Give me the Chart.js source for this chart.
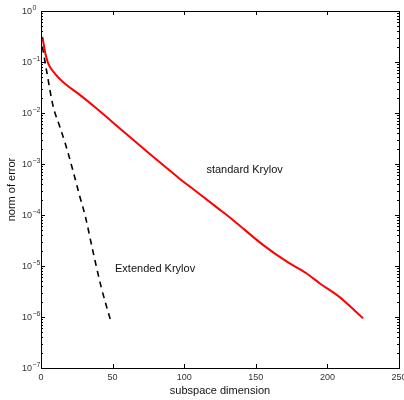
<!DOCTYPE html>
<html>
<head>
<meta charset="utf-8">
<script src="https://cdn.jsdelivr.net/npm/chart.js@4.4.1/dist/chart.umd.min.js"></script>
<style>
  html, body { margin: 0; padding: 0; background: #fff; }
  #wrap { width: 404px; height: 400px; }
</style>
</head>
<body>
<div id="wrap"><canvas id="chart" width="404" height="400"></canvas></div>
<script>
// standard Krylov (red, solid)
const stdDims = [1, 3, 5, 10, 17, 26, 38, 59, 76, 97, 104, 125, 134, 155, 172, 185, 195, 209, 216, 225];
const stdErr  = [0.31, 0.15, 0.094, 0.058, 0.037, 0.024, 0.0128, 0.0040, 0.00157, 5.1e-4, 3.6e-4, 1.26e-4, 8.0e-5, 2.6e-5, 1.2e-5, 7.3e-6, 4.5e-6, 2.4e-6, 1.6e-6, 9.4e-7];

// extended Krylov (black, dashed)
const extDims = [1, 4, 8.4, 13, 17, 22, 27, 31, 36, 42, 49];
const extErr  = [0.2, 0.065, 0.0138, 0.0055, 0.0025, 8.0e-4, 2.36e-4, 9.3e-5, 2.1e-5, 3.9e-6, 7.8e-7];

const xTicks = [0, 50, 100, 150, 200, 250];
const yExponents = [0, -1, -2, -3, -4, -5, -6, -7];

const xTitle = 'subspace dimension';
const yTitle = 'norm of error';
const notes = [
    { text: 'standard Krylov', x: 115.5, y: 7.6e-4 },
    { text: 'Extended Krylov', x: 51.7, y: 8.7e-6 }
];

const FONT = '"Liberation Sans", Arial, Helvetica, sans-serif';

const toPoints = (xs, ys) => xs.map((x, i) => ({ x: x, y: ys[i] }));

const matlabAxes = {
    id: 'matlabAxes',
    afterDraw(chart) {
        const ctx = chart.ctx;
        const { left, right, top, bottom } = chart.chartArea;
        const xs = chart.scales.x, ys = chart.scales.y;
        ctx.save();
        ctx.strokeStyle = '#000';
        ctx.lineWidth = 1;
        ctx.strokeRect(Math.round(left) + 0.5, Math.round(top) + 0.5, Math.round(right - left), Math.round(bottom - top));

        // ticks pointing inward
        ctx.beginPath();
        xTicks.forEach(v => {
            const px = Math.round(xs.getPixelForValue(v)) + 0.5;
            ctx.moveTo(px, bottom); ctx.lineTo(px, bottom - 4);
            ctx.moveTo(px, top); ctx.lineTo(px, top + 4);
        });
        yExponents.forEach(e => {
            const py = Math.round(ys.getPixelForValue(Math.pow(10, e))) + 0.5;
            ctx.moveTo(left, py); ctx.lineTo(left + 4, py);
            ctx.moveTo(right, py); ctx.lineTo(right - 4, py);
            if (e < 0) {
                for (let m = 2; m <= 9; m++) {
                    const pm = Math.round(ys.getPixelForValue(m * Math.pow(10, e))) + 0.5;
                    ctx.moveTo(left, pm); ctx.lineTo(left + 2, pm);
                    ctx.moveTo(right, pm); ctx.lineTo(right - 2, pm);
                }
            }
        });
        ctx.stroke();

        // tick labels
        ctx.fillStyle = '#333';
        ctx.font = '9px ' + FONT;
        ctx.textAlign = 'center';
        ctx.textBaseline = 'middle';
        xTicks.forEach(v => ctx.fillText(String(v), xs.getPixelForValue(v), bottom + 10));

        yExponents.forEach(e => {
            const py = ys.getPixelForValue(Math.pow(10, e));
            ctx.font = '9px ' + FONT;
            ctx.textAlign = 'right';
            ctx.fillText('10', left - 9, py + 1);
            ctx.font = '7px ' + FONT;
            ctx.textAlign = 'left';
            ctx.fillText(e === 0 ? '0' : '\u2212' + Math.abs(e), left - 8.5, py - 3);
        });

        // axis titles
        ctx.fillStyle = '#111';
        ctx.font = '11px ' + FONT;
        ctx.textAlign = 'center';
        ctx.fillText(xTitle, (left + right) / 2, bottom + 23);
        ctx.save();
        ctx.translate(12, (top + bottom) / 2);
        ctx.rotate(-Math.PI / 2);
        ctx.fillText(yTitle, 0, 0);
        ctx.restore();

        // curve labels
        ctx.textAlign = 'left';
        notes.forEach(n => ctx.fillText(n.text, xs.getPixelForValue(n.x), ys.getPixelForValue(n.y)));
        ctx.restore();
    }
};

new Chart(document.getElementById('chart'), {
    type: 'line',
    data: {
        datasets: [
            {
                label: 'standard Krylov',
                data: toPoints(stdDims, stdErr),
                borderColor: '#ff0000',
                borderWidth: 2,
                pointRadius: 0,
                cubicInterpolationMode: 'monotone',
                fill: false
            },
            {
                label: 'Extended Krylov',
                data: toPoints(extDims, extErr),
                borderColor: '#000000',
                borderWidth: 1.6,
                borderDash: [6, 5],
                pointRadius: 0,
                cubicInterpolationMode: 'monotone',
                fill: false
            }
        ]
    },
    options: {
        responsive: false,
        animation: false,
        devicePixelRatio: 1,
        layout: { padding: { top: 11, right: 5, left: 0, bottom: 0 } },
        plugins: { legend: { display: false }, tooltip: { enabled: false } },
        scales: {
            x: {
                type: 'linear', min: 0, max: 250,
                ticks: { display: false },
                grid: { display: false },
                border: { display: false },
                afterFit: s => { s.height = 32; }
            },
            y: {
                type: 'logarithmic', min: 1e-7, max: 1,
                ticks: { display: false },
                grid: { display: false },
                border: { display: false },
                afterFit: s => { s.width = 41; }
            }
        }
    },
    plugins: [matlabAxes]
});
</script>
</body>
</html>
